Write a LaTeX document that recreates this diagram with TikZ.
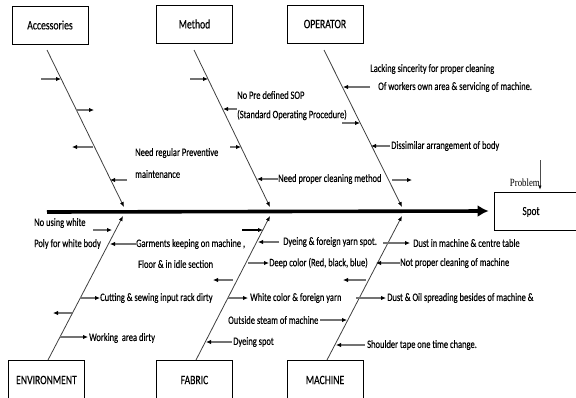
\documentclass[tikz,border=0pt]{standalone}
\usepackage{fontspec}
\setmainfont[FakeStretch=0.75,FakeBold=0.25]{Carlito}
\newfontfamily\probfont[FakeStretch=0.8]{Liberation Serif}
\usetikzlibrary{arrows.meta}

\tikzset{
  catbox/.style={draw, line width=0.8pt, minimum width=76pt, minimum height=38pt,
    inner sep=0pt, font=\fontsize{12.9}{14}\selectfont},
  bone/.style={draw=black!75, line width=0.8pt, -{Latex[length=5pt,width=4pt,color=black]}},
  cause/.style={black!55, line width=1.3pt, -{Latex[length=5pt,width=4.5pt,color=black]}},
  lbl/.style={anchor=west, inner sep=1pt, font=\fontsize{11.3}{12}\selectfont},
}

\begin{document}
\begin{tikzpicture}[x=1pt,y=-1pt]
  \useasboundingbox (0,0) rectangle (576,397);
  % category boxes
  \node [catbox] (acc) at (50,25) {Accessories};
  \node [catbox] (meth) at (194.5,24) {Method};
  \node [catbox] (oper) at (325,24) {OPERATOR};
  \node [catbox, minimum height=40pt] (env) at (46.5,380) {ENVIRONMENT};
  \node [catbox, minimum height=40pt] (fab) at (194.5,380) {FABRIC};
  \node [catbox, minimum height=40pt] (mach) at (325,380) {MACHINE};
  \node [catbox, minimum width=86pt, font=\fontsize{12.3}{13}\selectfont, text depth=0pt] (spot) at (537,211) {\hspace*{-12pt}Spot};
  % spine
  \coordinate (tail) at (47,212);
  \draw [line width=3.6pt, -{Latex[length=11pt,width=12pt]}] (tail) -- ([xshift=-5pt]spot.west);
  % problem label
  \coordinate (probtop) at (540,160);
  \draw [black!70, line width=0.5pt, -{Latex[length=4pt,width=3pt,color=black]}] (probtop) -- ([yshift=2pt]spot.north -| probtop);
  \node [anchor=east, inner sep=0pt, font=\probfont\fontsize{11}{12}\selectfont] (prob) at (540,183) {Problem};
  % bones
  \coordinate (accA) at (47,50);  \coordinate (accB) at (124,207);
  \coordinate (methA) at (194,50); \coordinate (methB) at (270,207);
  \coordinate (operA) at (324,50); \coordinate (operB) at (402,207);
  \coordinate (envA) at (48,360);  \coordinate (envB) at (123,216);
  \coordinate (fabA) at (196,360); \coordinate (fabB) at (270,216);
  \coordinate (machA) at (327,360); \coordinate (machB) at (402,216);
  \draw [bone] (accA) -- (accB);
  \draw [bone] (methA) -- (methB);
  \draw [bone] (operA) -- (operB);
  \draw [bone] (envA) -- (envB);
  \draw [bone] (fabA) -- (fabB);
  \draw [bone] (machA) -- (machB);
  % Accessories
  \draw [cause] (41,79) -- (61,79);
  \draw [cause] (76,110) -- (94,110);
  \draw [cause] (93,147) -- (72,147);
  \draw [cause] (127,180) -- (110,180);
  \node [lbl] (l1) at (134,153) {Need regular Preventive};
  \node [lbl] (l2) at (134,174) {maintenance};
  % Method
  \draw [cause] (190,79) -- (208,79);
  \draw [cause] (237,109) -- (223,109);
  \draw [cause] (230,147) -- (241,147);
  \draw [cause] (278,179) -- (257,179);
  \node [lbl] (l3) at (236,95) {No Pre defined SOP};
  \node [lbl] (l4) at (236,115) {(Standard Operating Procedure)};
  \node [lbl] (l5) at (277,179) {Need proper cleaning method};
  % Operator
  \draw [cause] (370,87) -- (343,87);
  \draw [cause] (342,123) -- (360,123);
  \draw [cause] (390,146) -- (371,146);
  \draw [cause] (392,180) -- (412,180);
  \node [lbl] (l6) at (369,69) {Lacking sincerity for proper cleaning};
  \node [lbl] (l7) at (377,87) {Of workers own area \& servicing of machine.};
  \node [lbl] (l8) at (390,146) {Dissimilar arrangement of body};
  % Environment
  \draw [cause] (93,230) -- (112,230);
  \draw [cause] (136,244) -- (110,244);
  \draw [cause] (80,298) -- (100,298);
  \draw [cause] (72,313) -- (53,313);
  \draw [cause] (60,337) -- (88,337);
  \node [lbl] (l9) at (33,223) {No using white};
  \node [lbl] (l10) at (33,244) {Poly for white body};
  \node [lbl] (l11) at (135,244) {Garments keeping on machine ,};
  \node [lbl] (l12) at (137,264) {Floor \& in idle section};
  \node [lbl] (l13) at (99,298) {Cutting \& sewing input rack dirty};
  \node [lbl] (l14) at (88,338) {Working \ area dirty};
  % Fabric
  \draw [cause, black] (242,230) -- (263,230);
  \draw [cause] (279,242) -- (258,242);
  \draw [cause] (248,263) -- (269,263);
  \draw [cause] (233,280) -- (213,280);
  \draw [cause] (228,298) -- (248,298);
  \draw [cause] (232,342) -- (206,342);
  \node [lbl] (l15) at (282,242) {Dyeing \& foreign yarn spot.};
  \node [lbl] (l16) at (268,263) {Deep color (Red, black, blue)};
  \node [lbl] (l17) at (249,298) {White color \& foreign yarn};
  \node [lbl] (l18) at (227,320) {Outside steam of machine};
  \node [lbl] (l19) at (232,342) {Dyeing spot};
  % Machine
  \draw [cause] (383,243) -- (410,243);
  \draw [cause] (400,263) -- (376,263);
  \draw [cause] (366,280) -- (343,280);
  \draw [cause] (356,298) -- (386,298);
  \draw [cause] (320,320) -- (347,320);
  \draw [cause] (365,345) -- (336,345);
  \node [lbl] (l20) at (412,243) {Dust in machine \& centre table};
  \node [lbl] (l21) at (399,263) {Not proper cleaning of machine};
  \node [lbl] (l22) at (386,298) {Dust \& Oil spreading besides of machine \&};
  \node [lbl] (l23) at (366,345) {Shoulder tape one time change.};
\end{tikzpicture}
\end{document}
